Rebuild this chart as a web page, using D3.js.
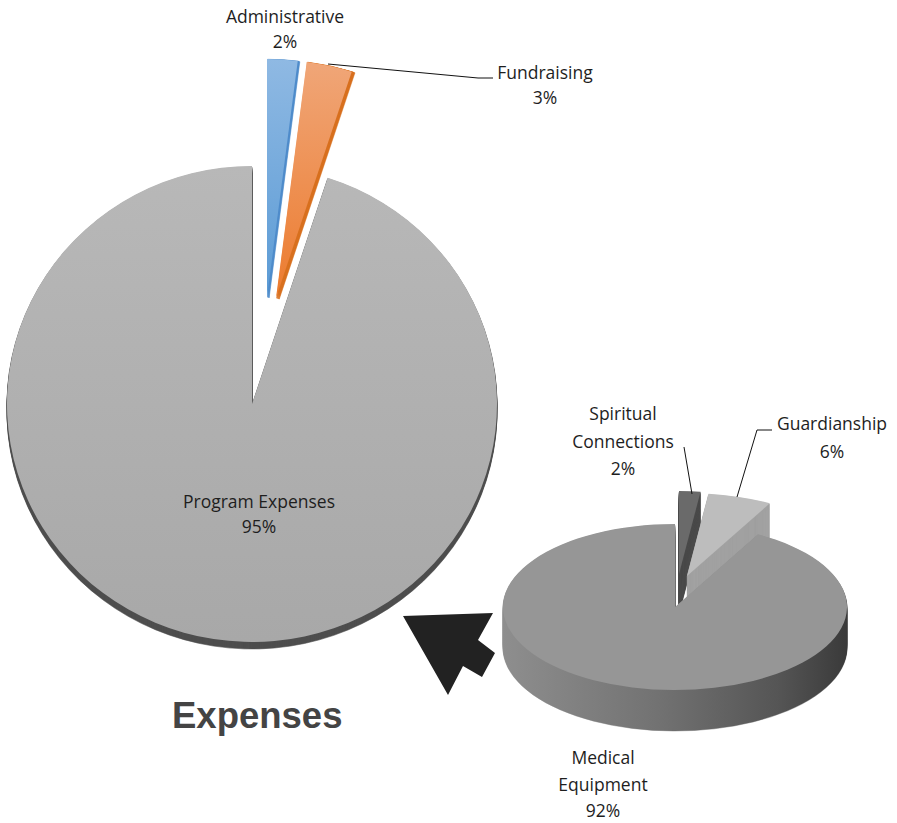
<!DOCTYPE html>
<html><head><meta charset="utf-8">
<script src="https://cdn.jsdelivr.net/npm/d3@7"></script>
<style>body{margin:0;background:#fff}svg{display:block}text{font-family:"Open Sans",Lato,sans-serif;fill:#1e1e1e}</style>
</head><body><svg id="c" width="897" height="823"></svg>
<script>
// ---- data ----
const mainCategories = ["Administrative", "Fundraising", "Program Expenses"];
const mainValues = [2, 3, 95];
const subCategories = ["Spiritual Connections", "Guardianship", "Medical Equipment"];
const subValues = [2, 6, 92];
const titleText = "Expenses";

// ---- styles / layout ----
const svg = d3.select("#c");
const defs = svg.append("defs");
function lg(id, stops, horiz) {
  const g = defs.append("linearGradient").attr("id", id)
    .attr("x1", 0).attr("y1", 0).attr("x2", horiz ? 1 : 0).attr("y2", horiz ? 0 : 1);
  stops.forEach(s => g.append("stop").attr("offset", s[0]).attr("stop-color", s[1]));
}
lg("gGray", [[0, "#b8b8b8"], [1, "#a8a8a8"]]);
lg("gBlue", [[0, "#8fb9e3"], [1, "#5b9bd5"]]);
lg("gOrange", [[0, "#f0a678"], [1, "#ec7b2e"]]);
lg("gMedSide", [[0, "#8e8e8e"], [0.45, "#727272"], [0.8, "#555"], [1, "#3a3a3a"]], true);

const mainStyle = {
  cx: 252, cy: 404, rx: 245, ry: 238,
  top: ["url(#gBlue)", "url(#gOrange)", "url(#gGray)"],
  side: ["#4f8ccb", "#d8701f", "#4e4e4e"],
  off: [[15, -107], [24, -106], [0, 0]],
  sideDir: [[0.7, 0.3], [0.8, 0.3], [0, 1]],
  sideN: [3, 4, 7]
};
const subStyle = {
  cx: 675, cy: 607, rx: 172, ry: 83,
  top: ["#6a6a6a", "#bdbdbd", "#969696"],
  side: ["#4a4a4a", "#a2a2a2", "url(#gMedSide)"],
  off: [[4, -33], [12, -31], [0, 0]],
  sideN: [40, 34, 41]
};

const pie = d3.pie().sort(null).value(d => d);

function drawPie(values, st) {
  const arcs = pie(values);
  const arc = d3.arc().innerRadius(0).outerRadius(st.rx);
  const g = svg.append("g");
  const sy = st.ry / st.rx;
  arcs.forEach((a, i) => {
    const [dx, dy] = st.off[i];
    const dir = st.sideDir ? st.sideDir[i] : [0, 1];
    for (let k = st.sideN[i]; k >= 1; k--) {
      g.append("path").attr("d", arc(a))
        .attr("transform", `translate(${st.cx + dx + dir[0] * k},${st.cy + dy + dir[1] * k}) scale(1,${sy})`)
        .attr("fill", st.side[i]).attr("stroke", st.side[i]).attr("stroke-width", 0.6);
    }
  });
  arcs.forEach((a, i) => {
    const [dx, dy] = st.off[i];
    g.append("path").attr("d", arc(a))
      .attr("transform", `translate(${st.cx + dx},${st.cy + dy}) scale(1,${sy})`)
      .attr("fill", st.top[i]);
  });
}

drawPie(mainValues, mainStyle);

// arrow (decoration)
const ax = 403, ay = 616;
svg.append("path")
  .attr("d", d3.line()([[0, 0], [90, -3], [75, 24], [92, 37], [79, 61], [60, 50], [45, 79]].map(p => [ax + p[0], ay + p[1]])) + "Z")
  .attr("fill", "#222");

drawPie(subValues, subStyle);

// ---- labels ----
function label(lines, x, y0, size, lh) {
  const t = svg.append("text").attr("text-anchor", "middle").attr("font-size", size);
  lines.forEach((l, i) => t.append("tspan").attr("x", x).attr("y", y0 + i * lh).text(l));
}
const fs = 17.5;
label([mainCategories[0], mainValues[0] + "%"], 285, 23, fs, 25);
label([mainCategories[1], mainValues[1] + "%"], 545, 79, fs, 25);
label([mainCategories[2], mainValues[2] + "%"], 259, 508, fs, 25);
label(["Spiritual", "Connections", subValues[0] + "%"], 623, 420, fs, 27.5);
label([subCategories[1], subValues[1] + "%"], 832, 430, fs, 27.5);
label(["Medical", "Equipment", subValues[2] + "%"], 603, 764, fs, 26.5);

// leader lines
const line = d3.line();
svg.append("path").attr("d", line([[328, 64], [478, 78], [493, 78]])).attr("fill", "none").attr("stroke", "#111").attr("stroke-width", 1);
svg.append("path").attr("d", line([[684, 447], [692, 494]])).attr("fill", "none").attr("stroke", "#111").attr("stroke-width", 1);
svg.append("path").attr("d", line([[737, 497], [757, 430], [772, 430]])).attr("fill", "none").attr("stroke", "#111").attr("stroke-width", 1);

// title
svg.append("text").attr("x", 172).attr("y", 728)
  .style("font-family", "'Liberation Sans', Arial, sans-serif").style("font-weight", "bold")
  .style("font-size", "36.5px").style("fill", "#444").text(titleText);
</script></body></html>
